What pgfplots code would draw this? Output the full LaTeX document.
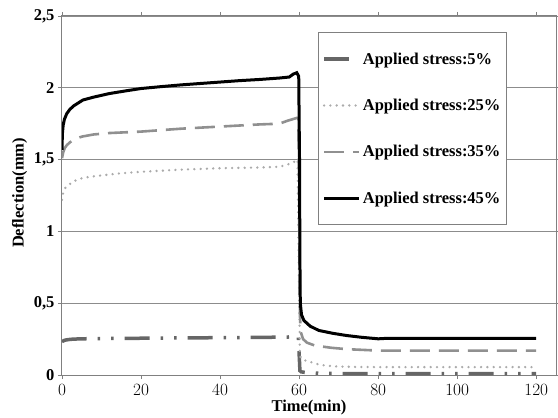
\documentclass[border=0pt]{standalone}
\usepackage{fontspec}
\setmainfont{Liberation Serif}
\usepackage{pgfplots}
\pgfplotsset{compat=1.18}
\newcommand{\chartfont}{\fontsize{16.5bp}{19bp}\selectfont\bfseries}
\definecolor{stressA}{HTML}{666666}
\definecolor{stressB}{HTML}{ABABAB}
\definecolor{stressC}{HTML}{909090}
\begin{document}
\begin{tikzpicture}
\begin{axis}[
    scale only axis,
    width=494bp, height=359bp,
    xmin=0, xmax=125, ymin=0, ymax=2.5,
    xtick={0,20,40,60,80,100,120},
    ytick={0,0.5,1,1.5,2,2.5},
    yticklabels={0,{0,5},1,{1,5},2,{2,5}},
    ticklabel style={font=\chartfont},
    x tick label style={yshift=-2bp},
    tick align=outside,
    major tick length=4bp,
    tick style={draw=gray, line width=0.9bp},
    axis line style={draw=gray, line width=1bp},
    ymajorgrids,
    major grid style={draw=gray!90, line width=0.9bp},
    xlabel={Time(min)},
    ylabel={Deflection(mm)},
    label style={font=\chartfont},
    xlabel style={at={(axis description cs:0.5,-0.092)}, anchor=center},
    ylabel style={at={(axis description cs:-0.086,0.507)}, anchor=center},
    legend style={at={(0.518,0.955)}, anchor=north west, draw=gray, line width=0.9bp,
        fill=white, font=\chartfont, row sep=29.5bp, inner xsep=4bp, inner ysep=18bp},
    legend cell align=left,
    legend image code/.code={\draw[#1] (0bp,0bp)--(35bp,0bp);},
]

\addplot[stressA, line width=3.5bp,
    dash pattern=on 25bp off 11bp on 2.5bp off 11bp on 2.5bp off 11bp] coordinates {
    (0,0.232) (0.5,0.24) (1,0.244) (2,0.248) (3,0.25) (5,0.252) (10,0.254) (20,0.256)
    (30,0.258) (40,0.26) (50,0.262) (57,0.264) (59,0.268) (59.8,0.272)
    (60,0.15) (60.2,0.03) (60.5,0.022) (62,0.016) (65,0.012) (70,0.01) (120,0.01)
};
\addlegendentry{Applied stress:5\%}

\addplot[stressB, line width=2.6bp, line cap=round, dash pattern=on 0bp off 6.3bp] coordinates {
    (0,1.22) (0.3,1.27) (0.7,1.3) (1.2,1.31) (2,1.33) (3,1.35) (5,1.37) (7,1.38)
    (10,1.39) (15,1.405) (20,1.415) (30,1.43) (40,1.44) (50,1.445) (55,1.45)
    (57,1.465) (58.5,1.48) (59.6,1.5) (60,0.6) (60.2,0.13) (61,0.105) (62.5,0.095)
    (64,0.08) (66,0.068) (69,0.06) (75,0.056) (80,0.055) (120,0.055)
};
\addlegendentry{Applied stress:25\%}

\addplot[stressC, line width=2.6bp, dash pattern=on 20bp off 9bp] coordinates {
    (0,1.51) (0.3,1.55) (0.7,1.58) (1.2,1.6) (2,1.62) (3,1.64) (5,1.66) (8,1.675)
    (12,1.685) (20,1.695) (30,1.715) (40,1.73) (50,1.745) (55,1.75) (57,1.77)
    (59.4,1.79) (59.8,1.79) (60,1.2) (60.2,0.42) (60.4,0.3) (61,0.25) (62,0.225)
    (64,0.205) (68,0.19) (72,0.18) (80,0.17) (120,0.17)
};
\addlegendentry{Applied stress:35\%}

\addplot[black, line width=3bp] coordinates {
    (0,1.567) (0.1,1.68) (0.3,1.74) (0.6,1.78) (1.2,1.82) (2,1.85) (3,1.875)
    (5.3,1.915) (8,1.935) (12,1.96) (16,1.978) (20,1.995) (25,2.008) (30,2.02)
    (35,2.03) (40,2.04) (45,2.05) (50,2.058) (55,2.068) (57.5,2.075) (58.5,2.095)
    (59.4,2.105) (59.9,2.08) (60.1,1.5) (60.2,0.8) (60.3,0.5) (60.6,0.42) (61.2,0.38)
    (62.8,0.34) (65,0.31) (68.6,0.29) (72,0.275) (76,0.262) (80,0.252) (82,0.255)
    (120,0.255)
};
\addlegendentry{Applied stress:45\%}

\end{axis}
\pgfresetboundingbox
\path[use as bounding box] (-62bp,-43bp) rectangle (496bp,375bp);
\end{tikzpicture}
\end{document}
